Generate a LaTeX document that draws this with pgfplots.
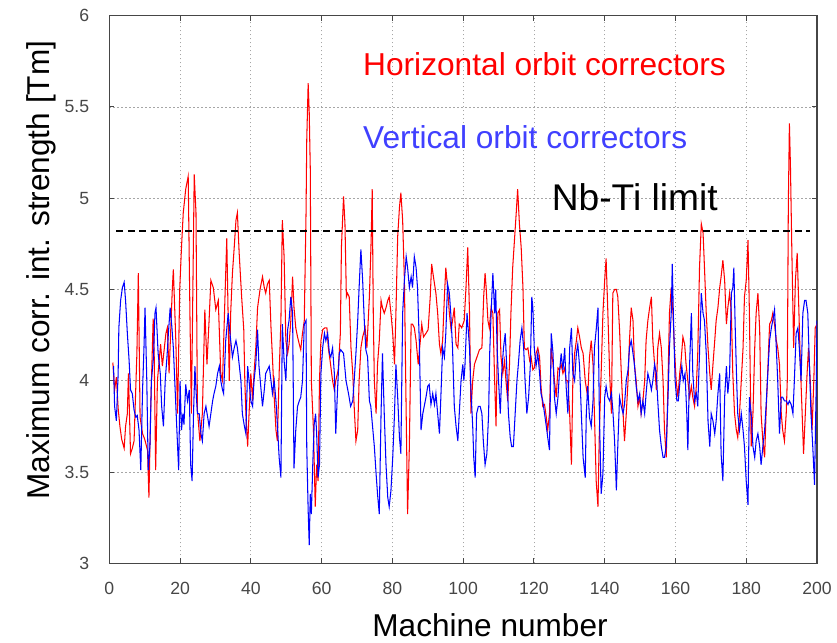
\documentclass[border=0pt]{standalone}
\usepackage{pgfplots}
\pgfplotsset{compat=1.18}
\usepackage{fontspec}
\setmainfont{Liberation Sans}
\definecolor{vblue}{RGB}{64,64,255}
\definecolor{axgray}{RGB}{70,70,70}
\begin{document}
\begin{tikzpicture}
\begin{axis}[name=ax,
  scale only axis, width=707.7bp, height=547.6bp,
  xmin=0, xmax=200, ymin=3, ymax=6,
  xtick={0,20,...,200}, ytick={3,3.5,4,4.5,5,5.5,6},
  tick align=inside, major tick length=5bp,
  tick style={axgray, line width=1bp},
  axis line style={axgray, line width=1.3bp},
  grid=major,
  major grid style={gray!70, line width=0.8bp, dash pattern=on 1.6bp off 2.4bp},
  /pgf/number format/assume math mode=true,
  ticklabel style={font=\fontsize{17.7}{20}\selectfont, text=axgray},
  xticklabel style={inner sep=0pt, anchor=north, yshift=-18.4bp},
  yticklabel style={inner sep=0pt, anchor=east, xshift=-20bp},
  xlabel={Machine number},
  ylabel={Maximum corr. int. strength [Tm]},
  label style={font=\fontsize{31.7}{36}\selectfont},
  xlabel style={at={(axis description cs:0.538,-0.1337)}, anchor=base, inner sep=0pt},
  ylabel style={at={(axis description cs:-0.0838,0.5356)}, anchor=base, inner sep=0pt},
]
\addplot[red, line width=1.05bp] coordinates {
(1.0,4.10) (1.5,3.95) (2.0,4.02) (2.5,3.85) (3.0,3.75) (3.5,3.68) (4.2,3.63) (4.6,3.75) (5.1,3.82) (5.4,4.04) (6.0,3.60) (6.5,3.63) (7.0,3.67) (7.8,4.15) (8.2,4.59) (8.7,3.80) (9.4,3.71) (10.0,3.68) (10.8,3.62) (11.2,3.36) (11.7,3.85) (12.4,4.34) (12.7,4.13) (13.1,3.51) (13.6,4.00) (14.5,4.20) (15.0,4.08) (16.0,4.26) (16.4,4.29) (16.9,4.04) (17.8,4.50) (18.1,4.61) (18.8,4.22) (19.3,3.82) (19.9,4.50) (20.4,4.73) (20.9,4.92) (21.6,5.05) (22.3,5.12) (22.8,4.35) (23.2,3.82) (24.0,5.13) (24.5,4.92) (24.9,3.84) (25.6,3.67) (26.3,3.82) (27.0,4.39) (27.6,4.09) (28.2,4.33) (28.7,4.55) (29.4,4.51) (30.1,4.39) (30.8,4.44) (31.5,4.04) (32.0,4.00) (32.6,4.40) (33.2,4.78) (33.9,4.00) (34.3,4.37) (34.8,4.59) (35.3,4.73) (35.8,4.88) (36.2,4.92) (36.7,4.70) (37.4,4.46) (38.0,4.28) (38.3,4.00) (38.6,3.82) (39.1,3.64) (39.5,3.82) (40.0,4.04) (40.5,3.89) (40.9,4.04) (41.4,4.18) (41.9,4.40) (42.6,4.50) (43.3,4.57) (43.8,4.51) (44.2,4.48) (44.7,4.53) (45.2,4.55) (45.7,4.29) (46.1,4.13) (46.6,3.91) (47.1,3.73) (47.5,3.67) (48.0,4.04) (48.5,4.33) (48.9,4.88) (49.4,4.68) (49.9,4.22) (50.4,4.15) (50.8,4.20) (51.3,4.33) (51.8,4.57) (52.2,4.40) (52.7,4.29) (53.2,4.24) (53.7,4.20) (54.1,4.17) (54.6,4.26) (55.1,4.33) (55.6,4.92) (55.8,5.32) (56.2,5.63) (56.5,5.47) (56.8,5.16) (57.1,4.00) (57.7,3.73) (58.2,3.31) (58.6,3.54) (59.0,3.45) (59.4,4.00) (59.8,4.22) (60.3,4.28) (60.9,4.29) (61.5,4.29) (61.9,4.18) (62.4,4.11) (63.1,4.00) (63.6,3.95) (64.0,4.00) (64.7,4.06) (65.3,4.26) (65.6,4.73) (66.2,5.01) (66.6,4.86) (67.0,4.46) (67.3,4.48) (67.8,4.46) (68.3,4.18) (68.8,4.04) (69.2,3.86) (69.7,3.67) (70.2,3.73) (70.6,4.00) (71.1,4.18) (71.6,4.24) (72.3,4.29) (72.8,4.18) (73.5,4.46) (74.0,4.77) (74.3,5.05) (74.6,4.37) (74.9,4.00) (75.4,3.82) (75.8,4.09) (76.3,4.22) (76.8,4.44) (77.2,4.40) (77.7,4.37) (78.2,4.40) (78.7,4.44) (79.1,4.46) (79.6,4.37) (80.1,4.26) (80.6,4.09) (81.0,4.37) (81.5,4.79) (82.0,4.95) (82.4,5.03) (82.9,4.88) (83.4,4.55) (83.9,3.82) (84.3,3.27) (84.8,3.64) (85.3,4.31) (85.7,4.31) (86.2,4.29) (86.7,4.22) (87.3,4.09) (87.9,4.22) (88.3,4.31) (88.8,4.24) (89.5,4.26) (90.1,4.28) (90.7,4.46) (91.1,4.64) (91.6,4.57) (92.3,4.48) (92.8,4.37) (93.3,4.20) (93.7,4.15) (94.2,4.22) (94.7,4.46) (95.1,4.62) (95.6,4.51) (96.1,4.37) (96.6,4.28) (97.0,4.33) (97.5,4.40) (98.0,4.20) (98.5,4.18) (98.9,4.31) (99.6,4.29) (100.3,4.33) (100.8,4.51) (101.3,4.73) (101.8,4.37) (102.2,3.82) (102.7,4.00) (103.2,4.09) (103.9,4.13) (104.6,4.17) (105.3,4.18) (105.8,4.46) (106.2,4.59) (106.5,4.51) (107.0,4.33) (107.4,4.29) (107.9,4.40) (108.4,4.37) (108.9,4.00) (109.3,3.75) (109.8,4.37) (110.3,4.39) (110.7,4.13) (111.2,4.04) (111.7,4.11) (112.1,4.00) (112.6,3.89) (113.1,4.09) (113.5,4.37) (114.0,4.62) (114.5,4.77) (115.0,4.92) (115.4,5.05) (115.9,4.86) (116.4,4.73) (116.9,4.51) (117.3,4.18) (117.8,4.17) (118.3,4.18) (118.8,4.11) (119.2,4.13) (119.7,4.06) (120.1,4.07) (120.6,4.15) (121.1,4.18) (121.6,4.13) (122.0,3.97) (122.5,3.86) (123.0,3.87) (123.5,3.80) (123.9,3.73) (124.4,3.82) (124.9,4.18) (125.4,4.09) (125.8,4.00) (126.3,3.91) (126.8,4.07) (127.2,4.06) (127.7,4.09) (128.2,4.04) (128.7,4.07) (129.1,4.00) (129.6,4.00) (130.1,3.82) (130.6,3.54) (131.0,4.00) (131.5,4.15) (132.0,4.22) (132.4,4.29) (132.9,4.24) (133.4,4.18) (133.9,4.15) (134.5,4.00) (135.2,3.91) (135.7,4.13) (136.2,4.22) (136.7,4.09) (137.1,3.82) (137.6,3.45) (138.1,3.31) (138.5,3.73) (139.0,4.04) (139.5,4.37) (140.0,4.55) (140.4,4.67) (140.9,4.37) (141.4,4.04) (141.9,3.82) (142.3,4.48) (142.8,4.50) (143.3,4.50) (143.7,4.46) (144.2,4.28) (144.7,4.04) (145.2,3.82) (145.6,3.67) (146.1,3.82) (146.6,4.00) (147.0,4.22) (147.5,4.40) (148.0,4.33) (148.4,4.09) (148.9,4.00) (149.4,3.86) (149.9,3.91) (150.3,3.82) (150.8,3.89) (151.3,4.00) (151.7,4.22) (152.2,4.33) (152.7,4.40) (153.2,4.46) (153.6,4.22) (154.1,4.09) (154.6,3.95) (155.0,4.18) (155.5,4.26) (156.0,4.18) (156.5,4.00) (156.9,3.73) (157.4,3.58) (157.9,4.00) (158.3,4.37) (158.8,4.51) (159.3,4.37) (159.7,4.18) (160.2,4.00) (160.7,3.91) (161.2,4.04) (161.6,4.11) (162.1,4.24) (162.6,4.20) (163.0,4.09) (163.5,4.00) (164.0,3.91) (164.5,3.97) (164.9,3.91) (165.4,3.86) (165.9,3.97) (166.3,4.15) (166.8,4.62) (167.3,4.86) (167.8,4.81) (168.2,4.62) (168.7,4.37) (169.2,4.18) (169.7,4.04) (170.1,3.95) (170.6,4.09) (171.1,4.22) (171.5,4.33) (172.0,4.40) (172.5,4.51) (172.9,4.57) (173.4,4.66) (173.9,4.55) (174.4,4.31) (174.8,4.40) (175.3,4.48) (175.8,4.37) (176.2,4.04) (176.7,3.82) (177.2,3.73) (177.6,3.69) (178.1,3.82) (178.6,4.00) (179.1,4.18) (179.5,4.46) (180.0,4.55) (180.5,4.77) (180.9,4.37) (181.4,3.64) (181.9,3.82) (182.4,4.18) (182.8,4.37) (183.3,4.48) (183.8,4.28) (184.2,3.82) (184.7,3.67) (185.2,3.58) (185.6,3.82) (186.1,4.06) (186.6,4.31) (187.1,4.33) (187.5,4.37) (188.0,4.31) (188.5,4.22) (188.9,4.18) (189.4,4.09) (189.9,3.82) (190.3,3.73) (190.8,3.67) (191.3,3.82) (191.6,4.00) (191.9,4.97) (192.2,5.41) (192.5,5.17) (192.9,4.70) (193.4,4.18) (193.9,4.55) (194.4,4.70) (194.7,4.51) (195.3,4.09) (195.8,3.82) (196.2,3.60) (196.7,3.82) (197.2,4.04) (197.6,4.18) (198.1,4.00) (198.6,3.73) (199.1,4.00) (199.5,4.29) (200.0,4.31)
};
\addplot[blue, line width=1.05bp] coordinates {
(1.2,4.08) (1.5,3.86) (2.0,3.78) (2.5,4.04) (2.7,4.29) (3.2,4.44) (3.7,4.51) (4.2,4.54) (4.6,4.44) (5.1,4.26) (5.6,4.11) (6.0,3.95) (6.5,3.93) (7.0,3.84) (7.5,3.80) (7.9,3.81) (8.4,3.73) (8.9,3.51) (9.4,3.95) (9.8,4.18) (10.1,4.40) (10.6,4.00) (11.0,3.51) (11.5,3.65) (11.9,4.00) (12.5,4.13) (12.9,4.37) (13.2,4.40) (13.8,4.15) (14.4,4.04) (14.8,3.86) (15.3,3.75) (15.8,4.00) (16.3,4.13) (16.7,4.26) (17.2,4.40) (17.7,4.29) (18.1,4.18) (18.5,4.00) (18.9,3.82) (19.3,3.64) (19.6,3.51) (20.0,4.00) (20.4,3.73) (20.8,3.82) (21.1,3.76) (21.6,3.98) (22.1,3.89) (22.6,3.95) (23.0,3.54) (23.4,3.45) (23.8,3.82) (24.2,4.08) (24.5,3.95) (24.9,3.82) (25.4,3.82) (25.9,3.71) (26.3,3.67) (26.8,3.82) (27.3,3.86) (27.8,3.80) (28.2,3.75) (28.7,3.82) (29.2,3.89) (29.6,3.93) (30.1,3.97) (30.6,4.04) (31.1,4.08) (31.5,4.00) (32.0,3.95) (32.3,3.93) (32.9,4.22) (33.6,4.37) (34.1,4.26) (34.8,4.13) (35.3,4.18) (35.8,4.22) (36.2,4.18) (36.7,4.09) (37.2,4.00) (37.6,3.82) (38.1,3.76) (38.6,3.71) (39.1,4.08) (39.5,4.00) (40.0,3.89) (40.5,3.86) (40.9,4.00) (41.4,4.09) (41.9,4.28) (42.3,4.08) (42.8,3.97) (43.3,3.86) (43.8,3.95) (44.2,4.04) (44.7,4.06) (45.2,4.08) (45.7,4.00) (46.1,3.93) (46.6,4.00) (47.1,3.89) (47.5,3.76) (48.0,3.58) (48.5,3.47) (48.9,4.31) (49.4,4.11) (49.9,4.00) (50.4,4.28) (50.8,4.33) (51.3,4.46) (51.8,4.37) (52.2,3.52) (52.7,3.73) (53.2,3.86) (53.7,3.89) (54.1,3.91) (54.6,4.00) (55.1,4.31) (55.6,4.33) (55.8,3.64) (56.2,3.29) (56.5,3.10) (56.8,3.38) (57.1,3.27) (57.5,3.54) (57.9,3.76) (58.3,3.82) (58.6,3.71) (59.0,3.47) (59.4,3.54) (59.8,4.04) (60.3,4.18) (60.8,4.26) (61.2,4.22) (61.7,4.26) (62.2,4.15) (62.6,4.13) (63.1,4.18) (63.6,4.04) (64.0,3.71) (64.5,3.95) (65.0,4.15) (65.4,4.17) (66.2,4.15) (66.9,4.00) (67.6,3.93) (68.2,3.86) (68.8,3.89) (69.2,4.00) (69.7,4.15) (70.2,4.33) (70.6,4.51) (71.1,4.72) (71.6,4.55) (72.1,4.31) (72.5,4.17) (73.0,4.13) (73.5,3.89) (73.9,3.86) (74.4,3.75) (74.9,3.64) (75.4,3.49) (75.8,3.38) (76.3,3.27) (76.8,3.82) (77.2,4.15) (77.7,3.82) (78.2,3.54) (78.7,3.36) (79.1,3.31) (79.6,3.40) (80.1,3.58) (80.6,3.82) (81.0,4.09) (81.5,3.91) (82.0,3.69) (82.4,3.60) (82.9,4.37) (83.4,4.55) (83.9,4.68) (84.3,4.62) (84.8,4.51) (85.3,4.57) (85.7,4.51) (86.2,4.68) (86.7,4.62) (87.1,4.51) (87.6,4.22) (88.1,3.73) (88.6,3.82) (89.0,3.86) (89.5,3.91) (90.0,3.97) (90.4,3.98) (90.9,3.87) (91.4,3.93) (91.9,3.87) (92.3,3.93) (92.8,3.82) (93.3,3.71) (93.7,3.91) (94.2,4.18) (94.7,4.13) (95.1,4.26) (95.6,4.53) (96.1,4.48) (96.5,4.37) (97.0,4.18) (97.5,3.86) (98.0,3.75) (98.5,3.67) (98.9,3.82) (99.4,4.00) (99.9,4.09) (100.2,4.00) (100.5,4.08) (101.1,4.37) (101.8,4.18) (102.2,3.95) (102.7,3.75) (103.0,3.58) (103.4,3.47) (103.8,3.82) (104.3,3.86) (104.8,3.86) (105.3,3.82) (105.7,3.67) (106.2,3.54) (106.7,3.60) (107.2,3.82) (107.5,4.15) (107.9,4.37) (108.4,4.59) (108.9,4.37) (109.2,4.50) (109.6,4.18) (110.0,4.00) (110.5,3.82) (110.9,4.04) (111.4,4.18) (111.9,4.26) (112.3,4.08) (112.8,3.82) (113.3,3.69) (113.7,3.64) (114.2,3.64) (114.7,3.82) (115.2,4.00) (115.6,4.09) (116.1,4.22) (116.6,4.29) (117.1,4.18) (117.5,4.00) (118.0,3.82) (118.5,3.91) (119.0,4.09) (119.4,4.46) (119.7,4.40) (120.1,4.18) (120.6,4.08) (121.1,4.15) (121.6,4.04) (122.0,3.93) (122.5,3.89) (123.0,3.82) (123.5,3.75) (123.9,3.69) (124.4,3.62) (124.9,4.26) (125.4,4.15) (125.8,3.91) (126.3,3.82) (126.8,3.91) (127.2,4.04) (127.7,4.15) (128.2,4.06) (128.7,4.18) (129.1,3.97) (129.6,3.82) (130.1,4.18) (130.6,4.29) (131.0,4.04) (131.5,4.00) (132.0,4.15) (132.4,4.20) (132.9,4.08) (133.4,3.82) (133.9,3.58) (134.5,3.47) (134.8,3.82) (135.2,3.97) (135.7,3.80) (136.2,3.75) (136.7,3.89) (137.1,4.18) (137.6,4.28) (138.1,4.40) (138.5,3.82) (139.0,3.38) (139.5,3.49) (140.0,3.91) (140.4,3.97) (140.9,3.91) (141.4,3.89) (141.9,3.93) (142.3,3.84) (142.8,3.67) (143.3,3.40) (143.7,3.64) (144.2,3.91) (144.7,3.86) (145.2,3.82) (145.6,3.87) (146.1,4.00) (146.6,4.06) (147.0,4.18) (147.5,4.22) (148.0,4.15) (148.4,4.09) (148.9,3.97) (149.4,3.89) (149.9,3.93) (150.3,3.82) (150.8,3.89) (151.3,3.82) (151.7,3.93) (152.2,4.04) (152.7,4.00) (153.2,3.95) (153.6,4.00) (154.1,4.09) (154.6,4.04) (155.0,3.89) (155.5,3.73) (156.0,3.64) (156.5,3.58) (156.9,3.58) (157.4,3.64) (157.9,3.91) (158.3,4.18) (158.8,4.37) (159.1,4.64) (159.4,4.37) (159.9,4.00) (160.4,3.89) (160.8,3.89) (161.3,4.00) (161.8,4.08) (162.2,4.00) (162.7,4.04) (163.2,3.82) (163.5,3.62) (164.0,4.09) (164.5,4.37) (164.9,4.04) (165.4,3.89) (165.9,3.93) (166.3,3.86) (166.8,4.15) (167.3,4.48) (167.8,4.37) (168.2,4.33) (168.7,4.15) (169.2,3.78) (169.7,3.64) (170.1,3.82) (170.6,3.78) (171.1,3.71) (171.5,3.78) (172.0,3.93) (172.5,4.04) (172.9,3.60) (173.4,3.45) (173.9,3.91) (174.4,4.08) (174.8,3.93) (175.3,4.04) (175.8,4.48) (176.2,4.51) (176.5,4.62) (176.9,4.28) (177.3,4.00) (177.6,3.82) (178.1,3.73) (178.6,3.82) (179.1,3.73) (179.5,3.64) (180.0,3.45) (180.5,3.32) (180.9,3.91) (181.4,3.82) (181.9,3.64) (182.4,3.58) (182.8,3.67) (183.3,3.71) (183.8,3.64) (184.2,3.54) (184.7,3.64) (185.2,3.73) (185.6,3.86) (186.1,4.04) (186.6,4.22) (187.1,4.29) (187.5,4.33) (188.0,4.39) (188.5,4.18) (188.9,4.00) (189.4,3.71) (189.9,3.91) (190.3,3.91) (190.8,3.89) (191.3,3.89) (191.8,3.87) (192.2,3.89) (192.7,3.87) (193.2,3.82) (193.6,4.00) (194.1,4.26) (194.6,4.29) (195.0,4.18) (195.5,4.00) (196.0,4.37) (196.5,4.44) (196.9,4.44) (197.4,4.37) (197.9,4.06) (198.3,3.82) (198.8,3.64) (199.3,3.43) (199.8,4.00) (200.0,4.33)
};
\addplot[black, line width=1.2bp, dash pattern=on 7bp off 4.5bp] coordinates {(2,4.82) (198,4.82)};
\node[anchor=base west, inner sep=0pt, text=red, font=\fontsize{31.8}{36}\selectfont] at (axis cs:71.7,5.671) {Horizontal orbit correctors};
\node[anchor=base west, inner sep=0pt, text=vblue, font=\fontsize{31.8}{36}\selectfont] at (axis cs:71.7,5.274) {Vertical orbit correctors};
\node[anchor=base west, inner sep=0pt, text=black, font=\fontsize{37.3}{40}\selectfont] at (axis cs:125.0,4.935) {Nb-Ti limit};
\end{axis}
\pgfresetboundingbox
\path[use as bounding box] ([shift={(-109.3bp,-79.7bp)}]ax.south west) rectangle ([shift={(20bp,15.7bp)}]ax.north east);
\end{tikzpicture}
\end{document}
